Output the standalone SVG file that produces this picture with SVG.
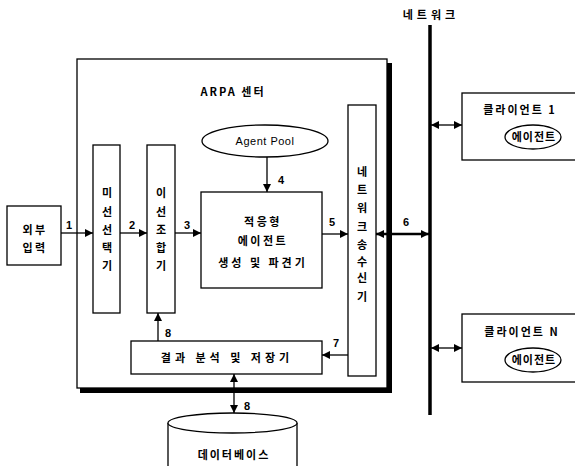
<svg xmlns="http://www.w3.org/2000/svg" width="575" height="466" viewBox="0 0 575 466">
<defs>
<marker id="ah" viewBox="0 0 10 10" refX="10" refY="5" markerWidth="8" markerHeight="8" markerUnits="userSpaceOnUse" orient="auto-start-reverse"><path d="M0,0 L10,5 L0,10 z" fill="#000"/></marker>
<style>
.box{fill:#fff;stroke:#000;stroke-width:1.3}
.t{font-family:"Liberation Sans","Noto Sans CJK KR",sans-serif;font-size:11px;fill:#000;text-anchor:middle;letter-spacing:0.5px}
.k{font-family:"Noto Sans CJK KR",sans-serif;font-size:11px;font-weight:bold;fill:#000;text-anchor:middle;letter-spacing:2.5px}
.n{font-family:"Liberation Sans",sans-serif;font-size:11px;font-weight:bold;fill:#000}
.c{stroke:#000;stroke-width:1.3;fill:none}
</style>
</defs>
<rect width="575" height="466" fill="#fff"/>
<g id="arpa">
<rect x="80" y="63" width="312" height="330" fill="#000"/>
<rect x="77" y="59" width="310" height="329" class="box"/>
<text x="233" y="96" class="k" font-size="13" style="letter-spacing:2px">ARPA 센터</text>
</g>
<g id="network">
<line x1="430" y1="25" x2="430" y2="415" stroke="#000" stroke-width="3.5"/>
<text x="431" y="19" class="k" style="letter-spacing:4px">네트워크</text>
</g>
<g id="client1">
<rect x="462" y="93" width="120" height="67" class="box"/>
<text x="520" y="114" class="k" style="letter-spacing:2px">클라이언트 1</text>
<ellipse cx="533" cy="137" rx="28" ry="12" class="box"/>
<text x="534" y="141" class="k" font-size="10" style="letter-spacing:1px">에이전트</text>
</g>
<g id="clientN">
<rect x="462" y="314" width="120" height="68" class="box"/>
<text x="522" y="336" class="k" style="letter-spacing:2px">클라이언트 N</text>
<ellipse cx="533" cy="360" rx="28" ry="12" class="box"/>
<text x="534" y="364" class="k" font-size="10" style="letter-spacing:1px">에이전트</text>
</g>
<g id="external">
<rect x="7" y="206" width="54" height="59" class="box"/>
<text x="35" y="234" class="k" font-size="12">외부</text>
<text x="35" y="252" class="k" font-size="12">입력</text>
</g>
<g id="selector">
<rect x="93" y="145" width="27" height="168" class="box"/>
<text class="k" style="letter-spacing:0"><tspan x="107" y="197">미</tspan><tspan x="107" y="216">선</tspan><tspan x="107" y="234">선</tspan><tspan x="107" y="252">택</tspan><tspan x="107" y="270">기</tspan></text>
</g>
<g id="combiner">
<rect x="147" y="145" width="28" height="168" class="box"/>
<text class="k" style="letter-spacing:0"><tspan x="161" y="197">이</tspan><tspan x="161" y="216">선</tspan><tspan x="161" y="234">조</tspan><tspan x="161" y="252">합</tspan><tspan x="161" y="270">기</tspan></text>
</g>
<g id="agentpool">
<ellipse cx="265" cy="141" rx="63" ry="16" class="box"/>
<text x="265" y="145" class="t" font-size="12">Agent Pool</text>
</g>
<g id="generator">
<rect x="201" y="192" width="121" height="96" class="box"/>
<text x="263" y="226" class="k" font-size="12">적응형</text>
<text x="263" y="245" class="k" font-size="12">에이전트</text>
<text x="263" y="267" class="k" font-size="12" style="letter-spacing:3px">생성 및 파견기</text>
</g>
<g id="transceiver">
<rect x="348" y="105" width="28" height="271" class="box"/>
<text class="k" style="letter-spacing:0"><tspan x="362" y="176">네</tspan><tspan x="362" y="194">트</tspan><tspan x="362" y="212">워</tspan><tspan x="362" y="231">크</tspan><tspan x="362" y="249">송</tspan><tspan x="362" y="266">수</tspan><tspan x="362" y="282">신</tspan><tspan x="362" y="301">기</tspan></text>
</g>
<g id="result">
<rect x="131" y="341" width="191" height="33" class="box"/>
<text x="227" y="362" class="k" style="letter-spacing:4px">결과 분석 및 저장기</text>
</g>
<g id="database">
<path d="M168,423 L168,466 M297,423 L297,466" class="c"/>
<ellipse cx="232.5" cy="423" rx="64.5" ry="10" class="box"/>
<text x="234" y="459" class="k" font-size="12" style="letter-spacing:2px">데이터베이스</text>
</g>
<g id="connectors">
<line x1="61" y1="233" x2="93" y2="233" class="c" marker-end="url(#ah)"/>
<text x="66" y="229" class="n">1</text>
<line x1="120" y1="233" x2="147" y2="233" class="c" marker-end="url(#ah)"/>
<text x="129" y="229" class="n">2</text>
<line x1="175" y1="233" x2="201" y2="233" class="c" marker-end="url(#ah)"/>
<text x="184" y="229" class="n">3</text>
<line x1="267" y1="157" x2="267" y2="192" class="c" marker-end="url(#ah)"/>
<text x="278" y="184" class="n">4</text>
<line x1="322" y1="234" x2="348" y2="234" class="c" marker-end="url(#ah)"/>
<text x="329" y="226" class="n">5</text>
<line x1="376" y1="234" x2="429" y2="234" stroke="#000" stroke-width="2.5" marker-start="url(#ah)" marker-end="url(#ah)"/>
<text x="403" y="226" class="n">6</text>
<line x1="348" y1="355" x2="322" y2="355" class="c" marker-end="url(#ah)"/>
<text x="333" y="347" class="n">7</text>
<line x1="158" y1="341" x2="158" y2="313" class="c" marker-end="url(#ah)"/>
<text x="165" y="337" class="n">8</text>
<line x1="234" y1="374" x2="234" y2="413" class="c" marker-start="url(#ah)" marker-end="url(#ah)"/>
<text x="244" y="410" class="n">8</text>
<line x1="431" y1="125" x2="462" y2="125" class="c" marker-start="url(#ah)" marker-end="url(#ah)"/>
<line x1="431" y1="348" x2="462" y2="348" class="c" marker-start="url(#ah)" marker-end="url(#ah)"/>
</g>
</svg>
